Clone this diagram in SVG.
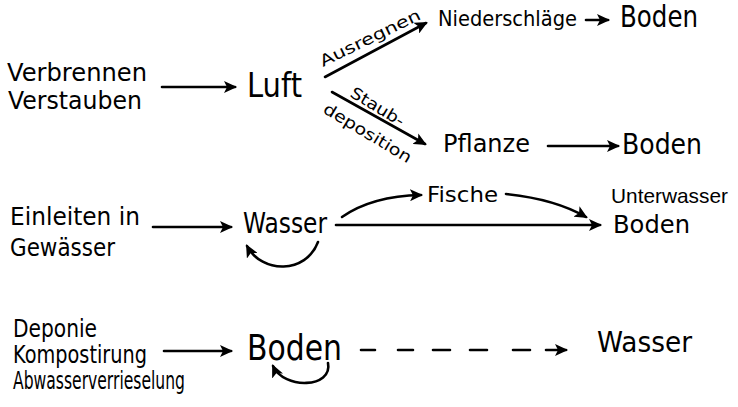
<svg xmlns="http://www.w3.org/2000/svg" width="738" height="407" viewBox="0 0 738 407">
<defs>
<style>
text{font-family:"DejaVu Sans","Liberation Sans",sans-serif;fill:#000}
text.n{font-family:"Liberation Sans",Arial,sans-serif}
.c{fill:none;stroke:#000;stroke-width:2.6;stroke-linecap:round}
</style>
<marker id="ah" markerUnits="userSpaceOnUse" markerWidth="14" markerHeight="12" refX="11" refY="6" orient="auto">
<path d="M0,0 L13,6 L0,12 L3,6 z" fill="#000"/>
</marker>
</defs>
<rect width="738" height="407" fill="#fff"/>
<g id="connectors">
<path class="c" d="M162,87 H235" marker-end="url(#ah)"/>
<path class="c" d="M325,77 L426,23" marker-end="url(#ah)"/>
<path class="c" d="M332,92 L425,144" marker-end="url(#ah)"/>
<path class="c" d="M586,20 H608" marker-end="url(#ah)"/>
<path class="c" d="M548,146 H618" marker-end="url(#ah)"/>
<path class="c" d="M153,227 H231" marker-end="url(#ah)"/>
<path class="c" d="M318,242 C306,274 262,274 247,246" marker-end="url(#ah)"/>
<path class="c" d="M336,225 H600" marker-end="url(#ah)"/>
<path class="c" d="M342,217 Q372,196 421,195" marker-end="url(#ah)"/>
<path class="c" d="M506,194 Q555,199 586,217" marker-end="url(#ah)"/>
<path class="c" d="M164,351 H231" marker-end="url(#ah)"/>
<path class="c" d="M328,363 C333,388 284,390 273,366" marker-end="url(#ah)"/>
<path class="c" d="M361,350 H375 M398,350 H413 M433,350 H450 M470,350 H487 M513,350 H530 M546,350 H566" marker-end="url(#ah)"/>
</g>
<g id="n-verbrennen"><text x="7" y="81" font-size="25" textLength="140" lengthAdjust="spacingAndGlyphs">Verbrennen</text><text x="8" y="109" font-size="25" textLength="134" lengthAdjust="spacingAndGlyphs">Verstauben</text></g>
<g id="n-luft"><text x="247" y="97" font-size="34" textLength="55" lengthAdjust="spacingAndGlyphs">Luft</text></g>
<g id="l-ausregnen"><text transform="translate(323,67) rotate(-26)" font-size="16" textLength="110" lengthAdjust="spacingAndGlyphs">Ausregnen</text></g>
<g id="l-staub"><text transform="translate(349,96) rotate(31)" font-size="16" textLength="60" lengthAdjust="spacingAndGlyphs">Staub-</text><text transform="translate(322,112) rotate(31)" font-size="16" textLength="100" lengthAdjust="spacingAndGlyphs">deposition</text></g>
<g id="n-niederschlaege"><text x="438" y="26" font-size="22" textLength="139" lengthAdjust="spacingAndGlyphs">Niederschläge</text></g>
<g id="n-boden1"><text x="620" y="27" font-size="30" textLength="78" lengthAdjust="spacingAndGlyphs">Boden</text></g>
<g id="n-pflanze"><text x="443" y="152" font-size="24" textLength="87" lengthAdjust="spacingAndGlyphs">Pflanze</text></g>
<g id="n-boden2"><text x="622" y="154" font-size="29" textLength="80" lengthAdjust="spacingAndGlyphs">Boden</text></g>
<g id="n-einleiten"><text x="10" y="225" font-size="24" textLength="130" lengthAdjust="spacingAndGlyphs">Einleiten in</text><text x="10" y="256" font-size="24" textLength="105" lengthAdjust="spacingAndGlyphs">Gewässer</text></g>
<g id="n-wasser1"><text x="243" y="233" font-size="29" textLength="84" lengthAdjust="spacingAndGlyphs">Wasser</text></g>
<g id="n-fische"><text x="427" y="202" font-size="22" textLength="71" lengthAdjust="spacingAndGlyphs">Fische</text></g>
<g id="n-unterwasserboden"><text class="n" x="611" y="203" font-size="21" textLength="117" lengthAdjust="spacingAndGlyphs">Unterwasser</text><text x="613" y="233" font-size="25" textLength="77" lengthAdjust="spacingAndGlyphs">Boden</text></g>
<g id="n-deponie"><text x="13" y="337" font-size="24" textLength="84" lengthAdjust="spacingAndGlyphs">Deponie</text><text x="13" y="363" font-size="24" textLength="134" lengthAdjust="spacingAndGlyphs">Kompostirung</text><text x="13" y="389" font-size="24" textLength="172" lengthAdjust="spacingAndGlyphs">Abwasserverrieselung</text></g>
<g id="n-boden3"><text x="247" y="360" font-size="36" textLength="95" lengthAdjust="spacingAndGlyphs">Boden</text></g>
<g id="n-wasser2"><text x="597" y="352" font-size="28" textLength="95" lengthAdjust="spacingAndGlyphs">Wasser</text></g>
</svg>
